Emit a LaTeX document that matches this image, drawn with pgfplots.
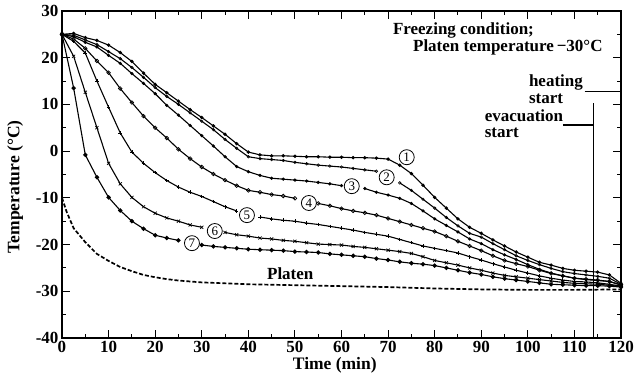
\documentclass[border=0pt]{standalone}
\usepackage{pgfplots}
\pgfplotsset{compat=1.18}
\usepackage{pgfplotstable}
\usepackage{fontspec}
\setmainfont{Liberation Serif}

\pgfplotstableread{
x     c1     c2     c3     c4     c5     c6     c7
0     25     25     25     25     25     25     25
2.5   25.2   24.8   24.5   24.0   23.5   20.3   13.5
5     24.3   23.8   23.3   22.0   21.0   12.6   -0.8
7.5   23.7   22.8   22.3   19.3   15.0   5.0    -5.6
10    22.7   21.3   20.5   16.8   9.4    -2.6   -9.9
12.5  21.1   19.8   18.8   13.4   3.9    -7.0   -12.7
15    19.2   17.9   16.6   10.4   -0.2   -9.9   -15.0
17.5  16.7   15.8   14.5   7.5    -2.6   -11.9  -16.6
20    14.3   13.6   12.3   5.0    -4.6   -13.3  -18.0
22.5  12.5   11.7   9.8    2.8    -6.3   -14.3  -18.6
25    10.7   10.0   7.7    0.4    -7.7   -15.0  -19.1
27.5  8.9    8.2    5.5    -1.6   -8.8   -15.8  nan
30    7.2    6.4    3.3    -3.4   -9.7   -16.3  -20.1
32.5  5.4    4.6    1.1    -4.9   -10.8  nan    -20.4
35    3.6    2.5    -1.2   -6.2   -11.9  -17.4  -20.6
37.5  1.6    0.6    -3.3   -7.4   -12.8  -17.9  -20.8
40    -0.2   -1.2   -4.4   -8.4   nan    -18.2  -21.0
42.5  -0.8   -1.6   -5.2   -8.8   -14.1  -18.6  -21.1
45    -1.0   -1.8   -5.8   -9.3   -14.5  -18.8  -21.2
47.5  -1.0   -2.0   -6.0   -9.6   -14.8  -19.1  -21.3
50    -1.1   -2.4   -6.2   -10.1  -15.0  -19.3  -21.5
52.5  -1.2   -2.7   -6.4   nan    -15.4  -19.6  -21.6
55    -1.2   -3.0   -6.7   -11.2  -15.7  -19.9  -21.7
57.5  -1.3   -3.2   -7.0   -11.7  -16.1  -20.0  -22.0
60    -1.3   -3.4   -7.4   -12.3  -16.5  -20.1  -22.2
62.5  -1.4   -3.7   nan    -12.8  -16.9  -20.4  -22.4
65    -1.4   -4.0   -8.0   -13.2  -17.4  -20.6  -22.6
67.5  -1.5   -4.3   -8.8   -13.7  -17.8  -20.9  -23.0
70    -1.7   nan    -9.4   -14.4  -18.2  -21.2  -23.3
72.5  -3.0   -6.8   -10.1  -15.1  -18.9  -21.5  -23.7
75    -4.8   -8.4   -11.2  -15.8  -19.6  -21.9  -24.0
77.5  -7.3   -10.3  -12.8  -16.5  -20.3  -22.6  -24.2
80    -9.9   -12.2  -14.5  -17.2  -20.8  -23.4  -24.5
82.5  -12.2  -14.2  -15.9  -18.2  -21.3  -23.9  -25.0
85    -14.5  -16.0  -17.3  -19.3  -21.8  -24.4  -25.5
87.5  -16.3  -17.6  -18.8  -20.3  -22.6  -25.0  -26.0
90    -17.6  -18.4  -19.8  -21.3  -23.3  -25.5  -26.4
92.5  -19.0  -19.8  -21.1  -22.4  -24.1  -26.1  -26.9
95    -20.3  -21.1  -22.2  -23.4  -24.8  -26.6  -27.3
97.5  -21.6  -22.4  -23.2  -24.1  -25.5  -26.9  -27.6
100   -22.7  -23.4  -24.3  -24.7  -26.1  -27.2  -27.9
102.5 -23.8  -24.3  -25.3  -25.5  -26.7  -27.5  -28.2
105   -24.4  -25.1  -26.1  -26.2  -27.2  -27.8  -28.5
107.5 -25.1  -25.8  -26.7  -26.7  -27.6  -28.1  -28.6
110   -25.5  -26.2  -27.2  -27.2  -27.9  -28.3  -28.7
112.5 -25.7  -26.5  -27.5  -27.4  -28.0  -28.4  -28.8
115   -25.9  -26.8  -27.7  -27.6  -28.2  -28.5  -28.8
117.5 -26.5  -27.2  -27.9  -27.9  -28.5  -28.7  -28.9
120   -28.3  -28.5  -28.7  -28.6  -28.9  -29.0  -29.1
}\curves

\pgfplotstableread{
x     T
0     -10
1     -13
2.5   -16.5
5     -19.5
7.5   -22
10    -23.5
12.5  -24.8
15    -25.7
17.5  -26.5
20    -27
22.5  -27.4
25    -27.7
30    -28.1
35    -28.3
40    -28.5
50    -28.7
60    -28.9
70    -29.1
80    -29.4
90    -29.6
100   -29.7
110   -29.7
120   -29.6
}\platen

\begin{document}
\begin{tikzpicture}
\begin{axis}[
  scale only axis,
  width=559pt, height=327pt,
  xmin=0, xmax=120, ymin=-40, ymax=30,
  xtick distance=10, ytick distance=10,
  minor tick num=1,
  tick align=inside,
  major tick length=8pt, minor tick length=4pt,
  every tick/.style={black, line width=1pt},
  axis line style={line width=1.4pt},
  font=\fontsize{17}{18}\selectfont\bfseries,
  /pgf/number format/assume math mode=true,
  xlabel={Time (min)},
  ylabel={Temperature (°C)},
  xlabel style={at={(axis description cs:0.488,-0.083)}, anchor=center, font=\fontsize{17.5}{18}\selectfont\bfseries},
  ylabel style={at={(axis description cs:-0.084,0.462)}, anchor=center, font=\fontsize{17.5}{18}\selectfont\bfseries},
  unbounded coords=jump,
  clip=false,
  every axis plot/.append style={black, line width=1.1pt},
]
\addplot[mark=*, mark size=1.1pt] table[x=x,y=c1] {\curves};
\addplot[mark=o, mark size=1.3pt, mark options={line width=0.6pt}] table[x=x,y=c2] {\curves};
\addplot[mark=*, mark size=1.0pt] table[x=x,y=c3] {\curves};
\addplot[mark=o, mark size=1.8pt, mark options={line width=0.7pt}] table[x=x,y=c4] {\curves};
\addplot[mark=+, mark size=1.8pt, mark options={line width=0.7pt}] table[x=x,y=c5] {\curves};
\addplot[mark=x, mark size=2.2pt, mark options={line width=0.7pt}] table[x=x,y=c6] {\curves};
\addplot[mark=*, mark size=1.6pt] table[x=x,y=c7] {\curves};
\addplot[line width=1.7pt, dash pattern=on 4pt off 2pt] table[x=x,y=T] {\platen};

% annotation lines
\addplot[line width=1.1pt] coordinates {(114,10.3) (114,-40)};
\addplot[line width=1.1pt] coordinates {(112.2,12.8) (120,12.8)};
\addplot[line width=1.1pt] coordinates {(107.5,5.6) (114,5.6)};

\tikzset{lab/.style={circle, draw, line width=0.8pt, fill=white, inner sep=0pt, minimum size=15pt, font=\fontsize{13}{13}\selectfont}}
\node[lab] at (axis cs:74,-1.3) {1};
\node[lab] at (axis cs:69.7,-5.6) {2};
\node[lab] at (axis cs:62.2,-7.5) {3};
\node[lab] at (axis cs:53.0,-11.1) {4};
\node[lab] at (axis cs:39.7,-13.7) {5};
\node[lab] at (axis cs:32.8,-17.1) {6};
\node[lab] at (axis cs:27.9,-19.7) {7};

\node[font=\fontsize{17}{18}\selectfont\bfseries] at (axis cs:49,-26.3) {Platen};
\node[anchor=west, font=\fontsize{17}{18}\selectfont\bfseries] at (axis cs:70.3,25.9) {Freezing condition;};
\node[anchor=east, font=\fontsize{17}{18}\selectfont\bfseries] at (axis cs:116.8,22.3) {Platen temperature\,−30°C};
\node[anchor=west, font=\fontsize{17}{18}\selectfont\bfseries] at (axis cs:99.5,14.6) {heating};
\node[anchor=west, font=\fontsize{17}{18}\selectfont\bfseries] at (axis cs:99.5,11.2) {start};
\node[anchor=west, font=\fontsize{17}{18}\selectfont\bfseries] at (axis cs:90.0,7.5) {evacuation};
\node[anchor=west, font=\fontsize{17}{18}\selectfont\bfseries] at (axis cs:90.0,3.9) {start};
\end{axis}
\pgfresetboundingbox
\path[use as bounding box] ([shift={(-62pt,-42pt)}]current axis.south west) rectangle ([shift={(13pt,11pt)}]current axis.north east);
\end{tikzpicture}
\end{document}
